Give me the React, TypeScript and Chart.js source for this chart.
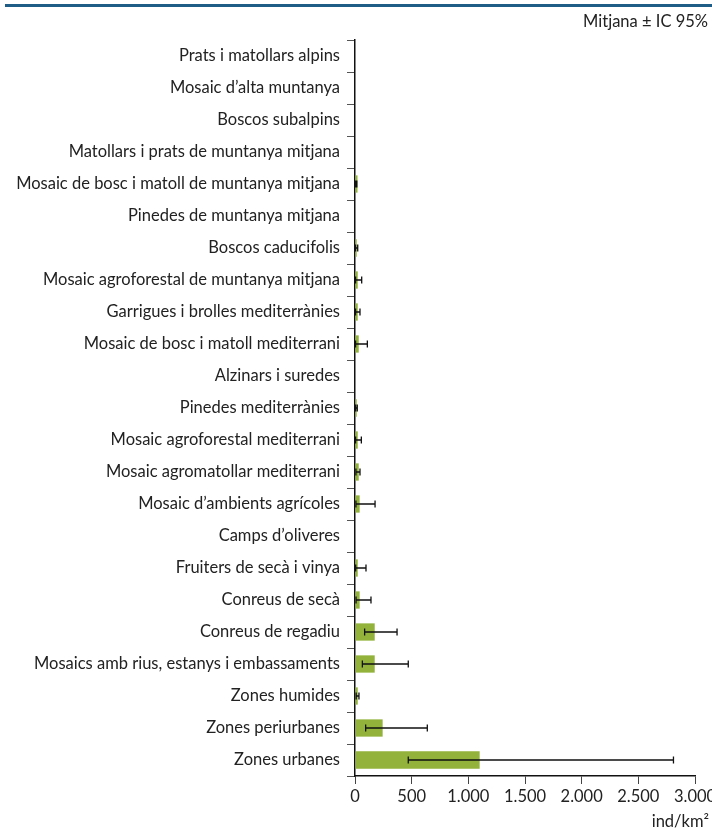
import React, { useEffect, useRef } from "react";
import { Chart, registerables } from "chart.js";

Chart.register(...registerables);

const categories = [
  "Prats i matollars alpins",
  "Mosaic d’alta muntanya",
  "Boscos subalpins",
  "Matollars i prats de muntanya mitjana",
  "Mosaic de bosc i matoll de muntanya mitjana",
  "Pinedes de muntanya mitjana",
  "Boscos caducifolis",
  "Mosaic agroforestal de muntanya mitjana",
  "Garrigues i brolles mediterrànies",
  "Mosaic de bosc i matoll mediterrani",
  "Alzinars i suredes",
  "Pinedes mediterrànies",
  "Mosaic agroforestal mediterrani",
  "Mosaic agromatollar mediterrani",
  "Mosaic d’ambients agrícoles",
  "Camps d’oliveres",
  "Fruiters de secà i vinya",
  "Conreus de secà",
  "Conreus de regadiu",
  "Mosaics amb rius, estanys i embassaments",
  "Zones humides",
  "Zones periurbanes",
  "Zones urbanes",
];

const meanValues = [0, 0, 0, 0, 22, 0, 15, 24, 24, 33, 0, 15, 24, 33, 41, 0, 24, 41, 174, 174, 24, 244, 1100];
const ciLow = [null, null, null, null, 6, null, 5, 5, 5, 5, null, 5, 5, 8, 8, null, 6, 9, 85, 65, 10, 94, 470];
const ciHigh = [null, null, null, null, 16, null, 24, 59, 44, 109, null, 20, 56, 44, 177, null, 97, 141, 371, 470, 35, 638, 2810];

const xTicks = [0, 500, 1000, 1500, 2000, 2500, 3000];
const legendText = "Mitjana ± IC 95%";
const unitText = "ind/km²";

const FONT = "Lato, 'Open Sans', sans-serif";

const fmt = (v: number) => v.toLocaleString("de-DE");

const errorBarPlugin = {
  id: "errorBars",
  afterDatasetsDraw(chart: any) {
    const ctx = chart.ctx;
    const x = chart.scales.x;
    const meta = chart.getDatasetMeta(0);
    ctx.save();
    ctx.strokeStyle = "#111";
    ctx.lineWidth = 1.3;
    meta.data.forEach((bar: any, i: number) => {
      const lo = ciLow[i];
      const hi = ciHigh[i];
      if (lo == null || hi == null) return;
      const y = bar.y;
      const x1 = x.getPixelForValue(lo);
      const x2 = x.getPixelForValue(hi);
      ctx.beginPath();
      ctx.moveTo(x1, y);
      ctx.lineTo(x2, y);
      ctx.moveTo(x1, y - 3.5);
      ctx.lineTo(x1, y + 3.5);
      ctx.moveTo(x2, y - 3.5);
      ctx.lineTo(x2, y + 3.5);
      ctx.stroke();
    });
    ctx.restore();
  },
};

const decorPlugin = {
  id: "decor",
  afterDraw(chart: any) {
    const ctx = chart.ctx;
    ctx.save();
    ctx.fillStyle = "#1f5c86";
    ctx.fillRect(5, 4, 707, 3);
    ctx.fillStyle = "#222";
    ctx.font = `16.5px ${FONT}`;
    ctx.textAlign = "right";
    ctx.textBaseline = "middle";
    ctx.fillText(legendText, 708, 22);
    ctx.fillText(unitText, 709, 822);
    ctx.restore();
  },
};

export default function App() {
  const ref = useRef<HTMLCanvasElement | null>(null);
  useEffect(() => {
    document.body.style.margin = "0";
    const chart = new Chart(ref.current as HTMLCanvasElement, {
      type: "bar",
      data: {
        labels: categories,
        datasets: [
          {
            data: meanValues,
            backgroundColor: "#93b23b",
            borderWidth: 0,
            barPercentage: 0.54,
            categoryPercentage: 1,
          },
        ],
      },
      options: {
        indexAxis: "y",
        animation: false,
        responsive: false,
        layout: { padding: { top: 40, right: 17, bottom: 24, left: 0 } },
        plugins: { legend: { display: false }, tooltip: { enabled: false } },
        scales: {
          x: {
            min: 0,
            max: 3000,
            afterBuildTicks: (s: any) => {
              s.ticks = xTicks.map((v) => ({ value: v }));
            },
            afterFit: (s: any) => {
              s.height = 30;
              s.paddingRight = 0;
              s.paddingLeft = 0;
            },
            grid: { drawOnChartArea: false, tickLength: 8, color: "#444", lineWidth: 1 },
            border: { color: "#111", width: 1.5 },
            ticks: {
              color: "#222",
              font: { family: FONT, size: 16.5 },
              padding: 3,
              maxRotation: 0,
              autoSkip: false,
              callback: (v: any) => fmt(Number(v)),
            },
          },
          y: {
            afterFit: (s: any) => {
              s.width = 355;
              s.paddingTop = 0;
              s.paddingBottom = 0;
            },
            grid: { drawOnChartArea: false, tickLength: 8, color: "#555", lineWidth: 1, offset: true },
            border: { color: "#111", width: 1.5 },
            ticks: {
              color: "#222",
              font: { family: FONT, size: 16.5 },
              padding: 7,
              autoSkip: false,
            },
          },
        },
      },
      plugins: [errorBarPlugin, decorPlugin],
    });
    return () => chart.destroy();
  }, []);
  return (
    <div style={{ position: "absolute", left: 0, top: 0, width: 712, height: 830, overflow: "hidden" }}>
      <canvas ref={ref} width={712} height={830} style={{ display: "block" }} />
    </div>
  );
}
